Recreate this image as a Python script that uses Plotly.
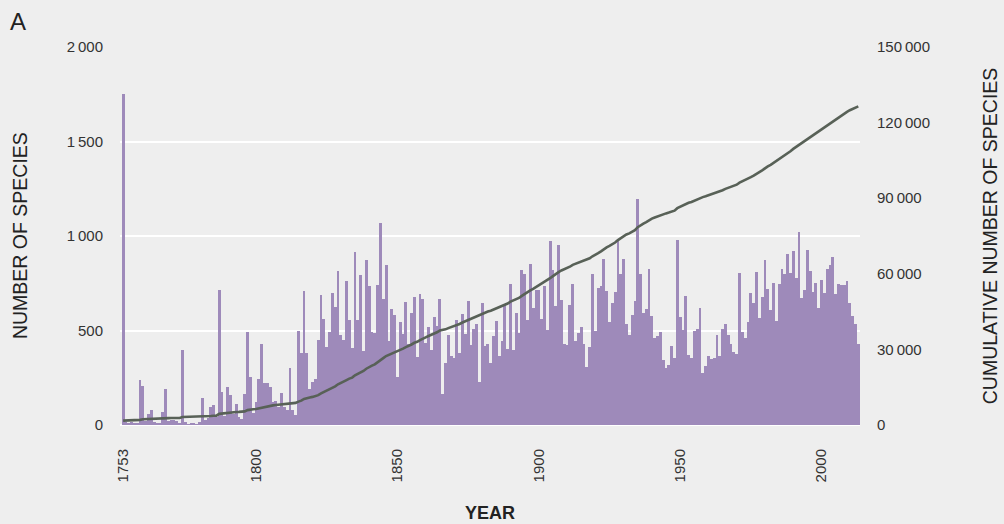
import numpy as np
import plotly.graph_objects as go

# Species described per year, starting with 1753
species_per_year = [
    1750, 15, 10, 15, 10, 10, 238, 206, 20, 58, 79, 15, 10, 10, 70, 188, 20, 25, 25, 20,
    10, 397, 15, 5, 10, 10, 5, 15, 145, 25, 35, 97, 106, 40, 716, 176, 50, 199, 159, 60,
    111, 40, 30,
    164, 493, 252, 65, 123, 243, 426, 220, 220, 200, 123, 127, 97, 168, 97, 79, 300, 79,
    53, 499, 379, 708, 382, 188, 229, 243, 449, 690, 563, 414, 490, 699, 625, 813, 475,
    452, 760, 554, 410, 915, 554, 796, 391, 871,
    735, 493, 485, 740, 1070, 669, 845, 445, 612, 581, 252, 546, 481, 651, 431, 590, 678,
    361, 692, 669, 435, 519, 396, 572, 524, 669, 162, 329, 475, 366, 352, 558, 379, 586,
    481, 655, 422, 510, 537, 225, 646, 417, 431, 330,
    471, 550, 366, 446, 640, 400, 746, 396, 590, 485, 818, 797, 554, 850, 620, 713, 716,
    563, 735, 502, 973, 818, 630, 950, 664, 426, 422, 634, 746, 444, 485, 519, 431, 308,
    414, 797, 498, 725, 735, 880, 708, 546, 646, 704, 983,
    797, 878, 537, 475, 581, 657, 1196, 801, 595, 616, 827, 576, 461, 470, 490, 343, 300,
    317, 419, 356, 977, 572, 502, 681, 370, 356, 498, 510, 620, 276, 312, 364, 347, 352,
    475, 366, 510, 537, 475, 428, 384, 375, 806, 490, 460,
    546, 696, 646, 810, 568, 675, 873, 718, 607, 752, 551, 748, 827, 801, 907, 804, 921,
    776, 1021, 674, 713, 925, 813, 704, 752, 620, 766, 699, 824, 845, 889, 692, 748, 740,
    740, 760, 643, 576, 537, 428,
]
first_year = 1753
years = list(range(first_year, first_year + len(species_per_year)))
cumulative = np.cumsum(species_per_year)

year_ticks = [1753, 1800, 1850, 1900, 1950, 2000]
left_ticks = [0, 500, 1000, 1500, 2000]
left_labels = ["0", "500", "1\u2009000", "1\u2009500", "2\u2009000"]
right_ticks = [0, 30000, 60000, 90000, 120000, 150000]
right_labels = ["0", "30\u2009000", "60\u2009000", "90\u2009000", "120\u2009000", "150\u2009000"]

BAR = "#9e8aba"
LINE = "#586157"
BG = "#eeeeee"
TXT = "#222222"
FONT = "Liberation Sans, Arial, sans-serif"

fig = go.Figure()
fig.add_trace(go.Bar(x=years, y=species_per_year, marker=dict(color=BAR, line=dict(width=0)),
                     yaxis="y", showlegend=False))
fig.add_trace(go.Scatter(x=years, y=cumulative, mode="lines", line=dict(color=LINE, width=2.6),
                         yaxis="y2", showlegend=False))

fig.update_layout(
    width=1004, height=524,
    margin=dict(l=120, r=144, t=47, b=99),
    paper_bgcolor=BG, plot_bgcolor=BG,
    bargap=0,
    font=dict(family=FONT, color=TXT, size=15),
    xaxis=dict(range=[1751.9, 2013.6], tickvals=year_ticks, ticktext=[str(v) for v in year_ticks],
               tickangle=-90, showgrid=False, zeroline=False, showline=False, ticks="",
               ticklabelstandoff=20, tickfont=dict(size=15, color="#333333")),
    yaxis=dict(range=[0, 2000], tickvals=left_ticks, ticktext=left_labels,
               showgrid=True, gridcolor="white", gridwidth=2,
               zeroline=True, zerolinecolor="white", zerolinewidth=2,
               showline=False, ticks="", ticklabelstandoff=16,
               tickfont=dict(size=15, color="#333333")),
    yaxis2=dict(range=[0, 150000], overlaying="y", side="right", tickvals=right_ticks,
                ticktext=right_labels, showgrid=False, zeroline=False, showline=False,
                ticks="", ticklabelstandoff=16, tickfont=dict(size=15, color="#333333")),
    annotations=[
        dict(text="A", x=-0.152, y=1.068, xref="paper", yref="paper", showarrow=False,
             xanchor="left", yanchor="middle", font=dict(size=24, color=TXT)),
        dict(text="NUMBER OF SPECIES", x=-0.135, y=0.5, xref="paper", yref="paper",
             showarrow=False, textangle=-90, xanchor="center", yanchor="middle",
             font=dict(size=19.5, color=TXT)),
        dict(text="CUMULATIVE NUMBER OF SPECIES", x=1.176, y=0.5, xref="paper", yref="paper",
             showarrow=False, textangle=-90, xanchor="center", yanchor="middle",
             font=dict(size=19.5, color=TXT)),
        dict(text="<b>YEAR</b>", x=0.5, y=-0.233, xref="paper", yref="paper",
             showarrow=False, xanchor="center", yanchor="middle",
             font=dict(size=18, color=TXT)),
    ],
)

fig.write_html("out.html")
